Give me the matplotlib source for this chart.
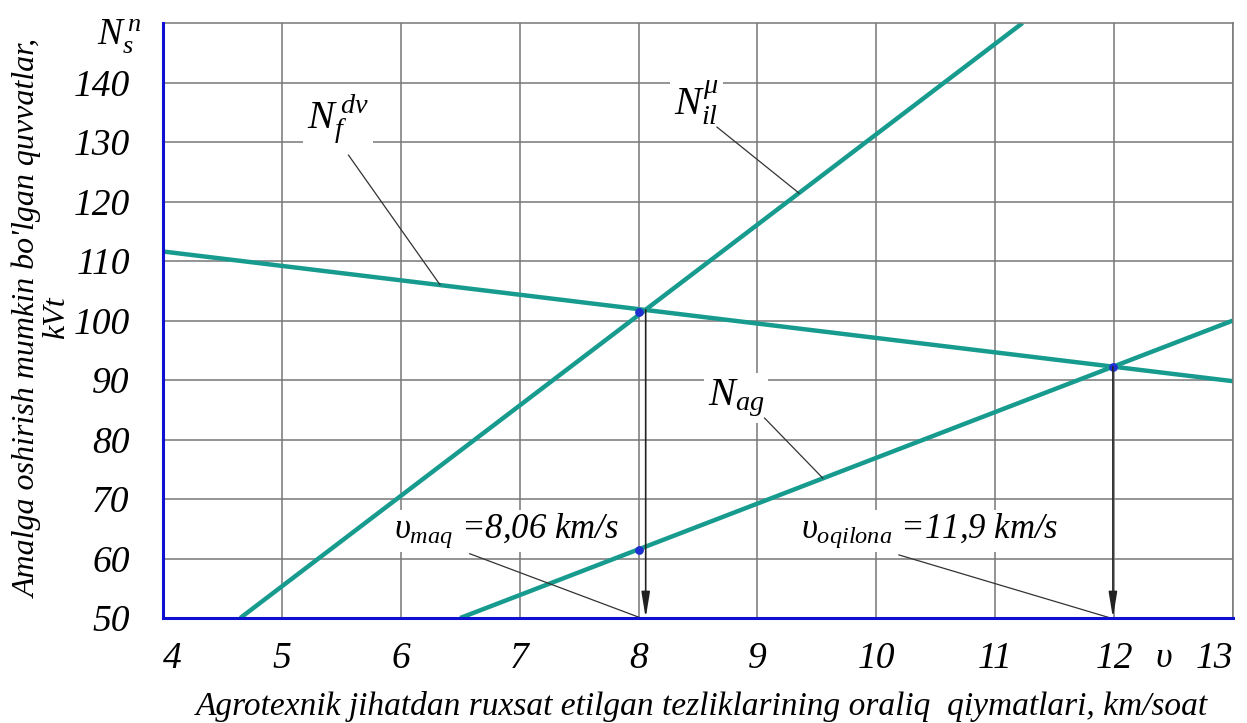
import matplotlib

matplotlib.use("Agg")
import matplotlib.pyplot as plt

# velocity axis (km/soat) and power axis (kVt)
x_ticks = [4, 5, 6, 7, 8, 9, 10, 11, 12, 13]
x_labels = ["4", "5", "6", "7", "8", "9", "10", "11", "12", "13"]
y_ticks = [50, 60, 70, 80, 90, 100, 110, 120, 130, 140]
y_labels = ["50", "60", "70", "80", "90", "100", "110", "120", "130", "140"]

# straight lines, given by their end points
nf_x = [4.0, 13.0]
nf_y = [111.6, 89.8]
nil_x = [4.65, 11.23]
nil_y = [50.0, 150.0]
nag_x = [6.5, 13.0]
nag_y = [50.0, 100.0]

# marked intersection points
dot_x = [8.0, 8.0, 11.99]
dot_y = [101.5, 61.5, 92.2]

v_maq = 8.06
v_maq_top = 101.8
v_oqilona = 11.99
v_oqilona_top = 92.2

TEAL = "#179b8e"
GRID = "#777777"
BLUE = "#1010d0"

plt.rcParams["font.family"] = ["Liberation Serif", "DejaVu Serif"]
plt.rcParams["font.style"] = "italic"
plt.rcParams["mathtext.fontset"] = "custom"
plt.rcParams["mathtext.rm"] = "Liberation Serif:italic"
plt.rcParams["mathtext.it"] = "Liberation Serif:italic"

fig = plt.figure(figsize=(12.47, 7.23), dpi=100)
ax = fig.add_axes([163 / 1247, 1 - 618 / 723, 1070 / 1247, 595 / 723])

ax.set_xlim(4, 13)
ax.set_ylim(50, 150)
ax.set_xticks(x_ticks)
ax.set_xticklabels(x_labels, fontsize=27)
ax.set_yticks(y_ticks)
ax.set_yticklabels(y_labels, fontsize=27)
ax.tick_params(axis="x", length=0, pad=17)
ax.tick_params(axis="y", length=0, pad=24)
xl = ax.get_xticklabels()
xl[0].set_horizontalalignment("left")
xl[-1].set_horizontalalignment("right")

ax.grid(True, color=GRID, linewidth=1.1)
ax.set_axisbelow(True)
for s in ["top", "right"]:
    ax.spines[s].set_color(GRID)
    ax.spines[s].set_linewidth(1.1)
for s in ["left", "bottom"]:
    ax.spines[s].set_color(BLUE)
    ax.spines[s].set_linewidth(2.2)
    ax.spines[s].set_zorder(5)

ax.plot(nf_x, nf_y, color=TEAL, linewidth=3.2, solid_capstyle="butt", zorder=2)
ax.plot(nil_x, nil_y, color=TEAL, linewidth=3.2, solid_capstyle="butt", zorder=2)
ax.plot(nag_x, nag_y, color=TEAL, linewidth=3.2, solid_capstyle="butt", zorder=2)
ax.scatter(dot_x, dot_y, s=28, color="#2030d0", zorder=4)

# vertical arrows down to the speed axis
arrow = dict(arrowstyle="-|>,head_length=1.1,head_width=0.18", color="#222222",
             linewidth=1.2, mutation_scale=14, shrinkA=0, shrinkB=0)
ax.annotate("", xy=(v_maq, 50), xytext=(v_maq, v_maq_top), arrowprops=arrow, zorder=4)
ax.annotate("", xy=(v_oqilona, 50), xytext=(v_oqilona, v_oqilona_top), arrowprops=arrow, zorder=4)

box = dict(facecolor="white", edgecolor="none", pad=3)
lead = dict(color="#333333", linewidth=0.9, zorder=3)

# curve labels with leader lines
ax.text(5.47, 134.0, r"$N_f^{\,dv}$", fontsize=29, ha="center", va="center", bbox=box, zorder=3)
ax.plot([5.56, 6.33], [127.8, 106.0], **lead)

ax.text(8.49, 136.5, r"$N_{il}^{\mu}$", fontsize=29, ha="center", va="center", bbox=box, zorder=3)
ax.plot([8.66, 9.35], [132.5, 121.4], **lead)

ax.text(8.82, 87.0, r"$N_{ag}$", fontsize=29, ha="center", va="center", bbox=box, zorder=3)
ax.plot([9.06, 9.55], [83.6, 73.5], **lead)

ax.text(6.89, 64.6, r"$\upsilon_{maq}$ =8,06 km/s", fontsize=25, ha="center", va="center",
        bbox=dict(facecolor="white", edgecolor="none", pad=1), zorder=3)
ax.plot([6.58, 8.02], [60.8, 50.0], **lead)

ax.text(10.45, 64.6, r"$\upsilon_{oqilona}$ =11,9 km/s", fontsize=25, ha="center", va="center",
        bbox=dict(facecolor="white", edgecolor="none", pad=1), zorder=3)
ax.plot([10.19, 11.97], [60.6, 50.0], **lead)

# axis symbols
ax.text(3.82, 147.6, r"$N_s^{\,n}$", fontsize=27, ha="right", va="center", clip_on=False)
ax.annotate(r"$\upsilon$", xy=(12.42, 50), xytext=(0, -29), textcoords="offset points",
            fontsize=26, ha="center", va="center", annotation_clip=False)

fig.text(702 / 1247, 1 - 707 / 723,
         "Agrotexnik jihatdan ruxsat etilgan tezliklarining oraliq  qiymatlari, km/soat",
         fontsize=24, ha="center", va="center")
fig.text(42 / 1247, 1 - 318 / 723, "Amalga oshirish mumkin bo'lgan quvvatlar,\nkVt",
         fontsize=23, rotation=90, ha="center", va="center", multialignment="center",
         linespacing=0.95)

fig.savefig("out.png", dpi=100)
